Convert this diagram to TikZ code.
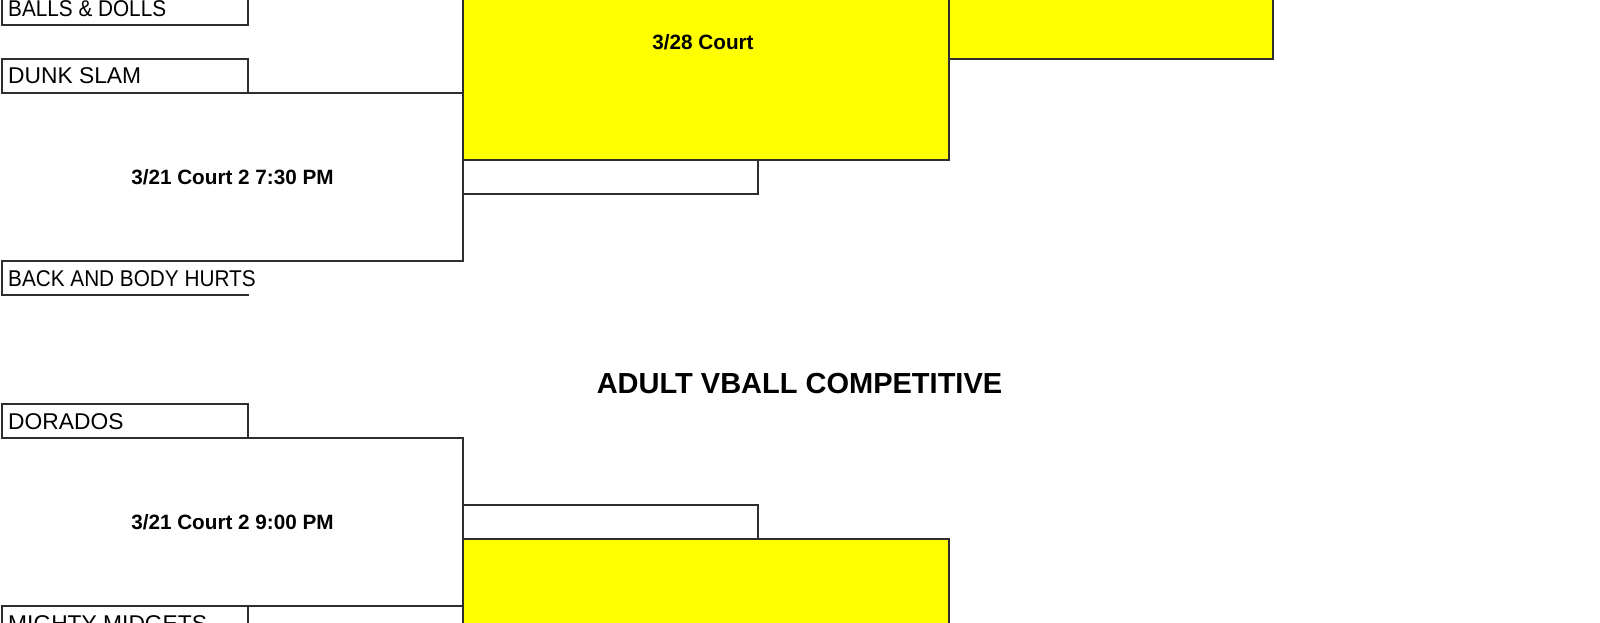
\documentclass[tikz,border=0pt]{standalone}
\usepackage{fontspec}
\setmainfont{Liberation Sans}
\definecolor{courtyellow}{RGB}{255,255,0}
\tikzset{
  team/.style={anchor=base west, inner sep=0pt, font=\fontsize{22.8}{26}\selectfont},
  squeezed/.style={xscale=0.91, transform shape},
  game/.style={anchor=base, inner sep=0pt, font=\bfseries\fontsize{20.7}{24}\selectfont},
  heading/.style={anchor=base, inner sep=0pt, font=\bfseries\fontsize{29}{32}\selectfont},
  rule/.style={line width=1.7pt, draw=black!82},
}
\begin{document}
\begin{tikzpicture}[x=1pt, y=-1pt, line join=miter, line cap=rect]
  \useasboundingbox (0,0) rectangle (1600,623);
  \clip (0,0) rectangle (1600,623);
  % yellow cells
  \fill[courtyellow] (463,-20) rectangle (949,160);
  \fill[courtyellow] (949,-20) rectangle (1273,59);
  \fill[courtyellow] (463,539) rectangle (949,650);
  % upper bracket
  \draw[rule] (2,-20) |- (248,25) -- (248,-20);
  \draw[rule] (2,93) |- (248,59) -- (248,93);
  \foreach \y in {93,261} \draw[rule] (2,\y) -- (463,\y);
  \draw[rule] (463,-20) -- (463,261);
  \draw[rule] (463,160) -| (949,-20);
  \draw[rule] (949,59) -| (1273,-20);
  \draw[rule] (463,194) -| (758,160);
  \draw[rule] (2,261) |- (248,295);
  % lower bracket
  \draw[rule] (2,438) |- (248,404) -- (248,438);
  \foreach \y in {438,606} \draw[rule] (2,\y) -- (463,\y);
  \draw[rule] (463,438) -- (463,650);
  \draw[rule] (463,505) -| (758,539);
  \draw[rule] (463,539) -| (949,650);
  \draw[rule] (2,650) -- (2,606);
  \draw[rule] (248,606) -- (248,650);
  % texts
  \node[team, squeezed] (balls) at (8,17) {BALLS \& DOLLS};
  \node[team] (dunk) at (8,84) {DUNK SLAM};
  \node[team, squeezed] (back) at (8,286) {BACK AND BODY HURTS};
  \node[team] (dorados) at (8,429) {DORADOS};
  \node[team] (midgets) at (8,631) {MIGHTY MIDGETS};
  \node[game] (gameA) at (232.5,184) {3/21 Court 2 7:30 PM};
  \node[game] (gameB) at (232.5,529) {3/21 Court 2 9:00 PM};
  \node[game] (final) at (703,50) {3/28 Court};
  \node[heading] (title) at (799.5,393) {ADULT VBALL COMPETITIVE};
\end{tikzpicture}
\end{document}
